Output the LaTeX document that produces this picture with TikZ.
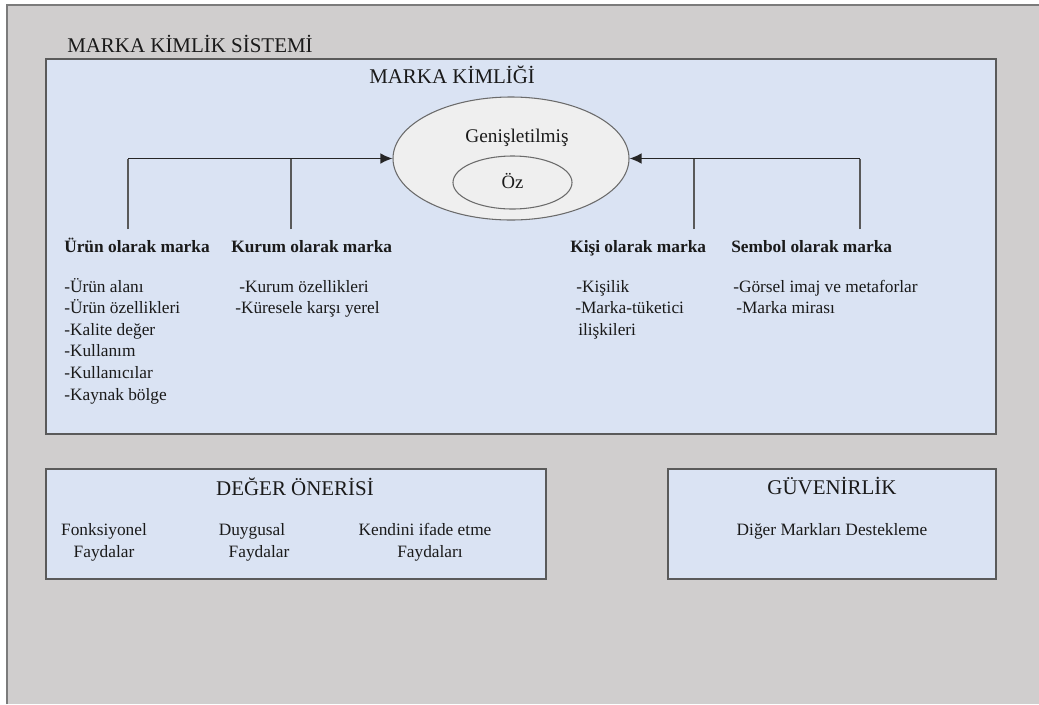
\documentclass[tikz,border=0pt]{standalone}
\usepackage{fontspec}
\setmainfont{Liberation Serif}
\usetikzlibrary{shapes.geometric,arrows.meta}
\definecolor{bg}{HTML}{D0CECE}
\definecolor{boxfill}{HTML}{DAE3F3}
\definecolor{ellfill}{HTML}{EFEFEF}
\definecolor{edge}{HTML}{5A5A5A}
\definecolor{txt}{HTML}{1A1A1A}
\begin{document}
\begin{tikzpicture}[x=0.75pt,y=-0.75pt,
  panel/.style={draw=edge,line width=1.3pt,fill=boxfill,inner sep=0},
  title/.style={font=\fontsize{15.7}{18}\selectfont,text=txt,anchor=base,inner sep=0},
  head/.style={font=\fontsize{13}{15}\selectfont\bfseries,text=txt,anchor=base west,inner sep=0},
  body/.style={font=\fontsize{13}{15}\selectfont,text=txt,anchor=base west,inner sep=0},
  bodyc/.style={body,anchor=base},
  oval/.style={ellipse,draw=edge!90,line width=0.8pt,fill=ellfill,inner sep=0},
  conn/.style={draw=black!65,line width=1.2pt},
  arr/.style={draw=black!85,line width=1.1pt,-{Latex[length=9pt,width=8pt]}}
  ]
\useasboundingbox (0,0) rectangle (1039,704);
\fill[white] (0,0) rectangle (1039,704);
\fill[bg] (7,5) rectangle (1039,704);
\draw[edge!80,line width=0.8pt] (7,704) -- (7,5) -- (1039,5);

% panels
\node (main) [panel,minimum width=712.5pt,minimum height=281.25pt] at (521,246.5) {};
\node (deger) [panel,minimum width=375pt,minimum height=82.5pt] at (296,524) {};
\node (guven) [panel,minimum width=246pt,minimum height=82.5pt] at (832,524) {};

% titles
\node[title,anchor=base west] (sys) at (67,52) {MARKA KİMLİK SİSTEMİ};
\node[title,anchor=base west] (kim) at (369,83) {MARKA KİMLİĞİ};

% ellipses
\node (ext) [oval,minimum width=177pt,minimum height=92.25pt] at (511,158.5) {};
\node (core) [oval,minimum width=89.25pt,minimum height=39.75pt] at (512.5,182.5) {};
\node[bodyc,font=\fontsize{14.5}{16}\selectfont] (gen) at (517,142) {Genişletilmiş};
\node[bodyc,font=\fontsize{14}{16}\selectfont] (oz) at (512.5,188) {Öz};

% connectors
\coordinate (l1) at (128,229);
\coordinate (l2) at (291,229);
\coordinate (r1) at (694,229);
\coordinate (r2) at (860,229);
\draw[conn] (l1) -- (l1 |- ext.west);
\draw[conn] (r2) -- (r2 |- ext.east);
\draw[arr] (l1 |- ext.west) -- (ext.west);
\draw[arr] (r2 |- ext.east) -- (ext.east);
\draw[conn] (l2) -- (l2 |- ext.west);
\draw[conn] (r1) -- (r1 |- ext.east);

% headings
\node[head] (h1) at (64,252) {Ürün olarak marka};
\node[head] (h2) at (231,252) {Kurum olarak marka};
\node[head] (h3) at (570,252) {Kişi olarak marka};
\node[head] (h4) at (731,252) {Sembol olarak marka};

% column 1
\node[body] (a1) at (64,292) {-Ürün alanı};
\node[body] (a2) at (64,313) {-Ürün özellikleri};
\node[body] (a3) at (64,335) {-Kalite değer};
\node[body] (a4) at (64,356) {-Kullanım};
\node[body] (a5) at (64,378) {-Kullanıcılar};
\node[body] (a6) at (64,400) {-Kaynak bölge};
% column 2
\node[body] (b1) at (239,292) {-Kurum özellikleri};
\node[body] (b2) at (235,313) {-Küresele karşı yerel};
% column 3
\node[body] (c1) at (576,292) {-Kişilik};
\node[body] (c2) at (575,313) {-Marka-tüketici};
\node[body] (c3) at (578,335) {ilişkileri};
% column 4
\node[body] (d1) at (733,292) {-Görsel imaj ve metaforlar};
\node[body] (d2) at (736,313) {-Marka mirası};

% value proposition
\node[title] (dt) at (295,495) {DEĞER ÖNERİSİ};
\node[bodyc] (v1) at (104,535) {Fonksiyonel};
\node[bodyc] (v1b) at (104,557) {Faydalar};
\node[bodyc] (v2) at (252,535) {Duygusal};
\node[bodyc] (v2b) at (259,557) {Faydalar};
\node[bodyc] (v3) at (425,535) {Kendini ifade etme};
\node[bodyc] (v3b) at (430,557) {Faydaları};

% credibility
\node[title] (gt) at (832,494) {GÜVENİRLİK};
\node[bodyc] (g1) at (832,535) {Diğer Markları Destekleme};
\end{tikzpicture}
\end{document}
